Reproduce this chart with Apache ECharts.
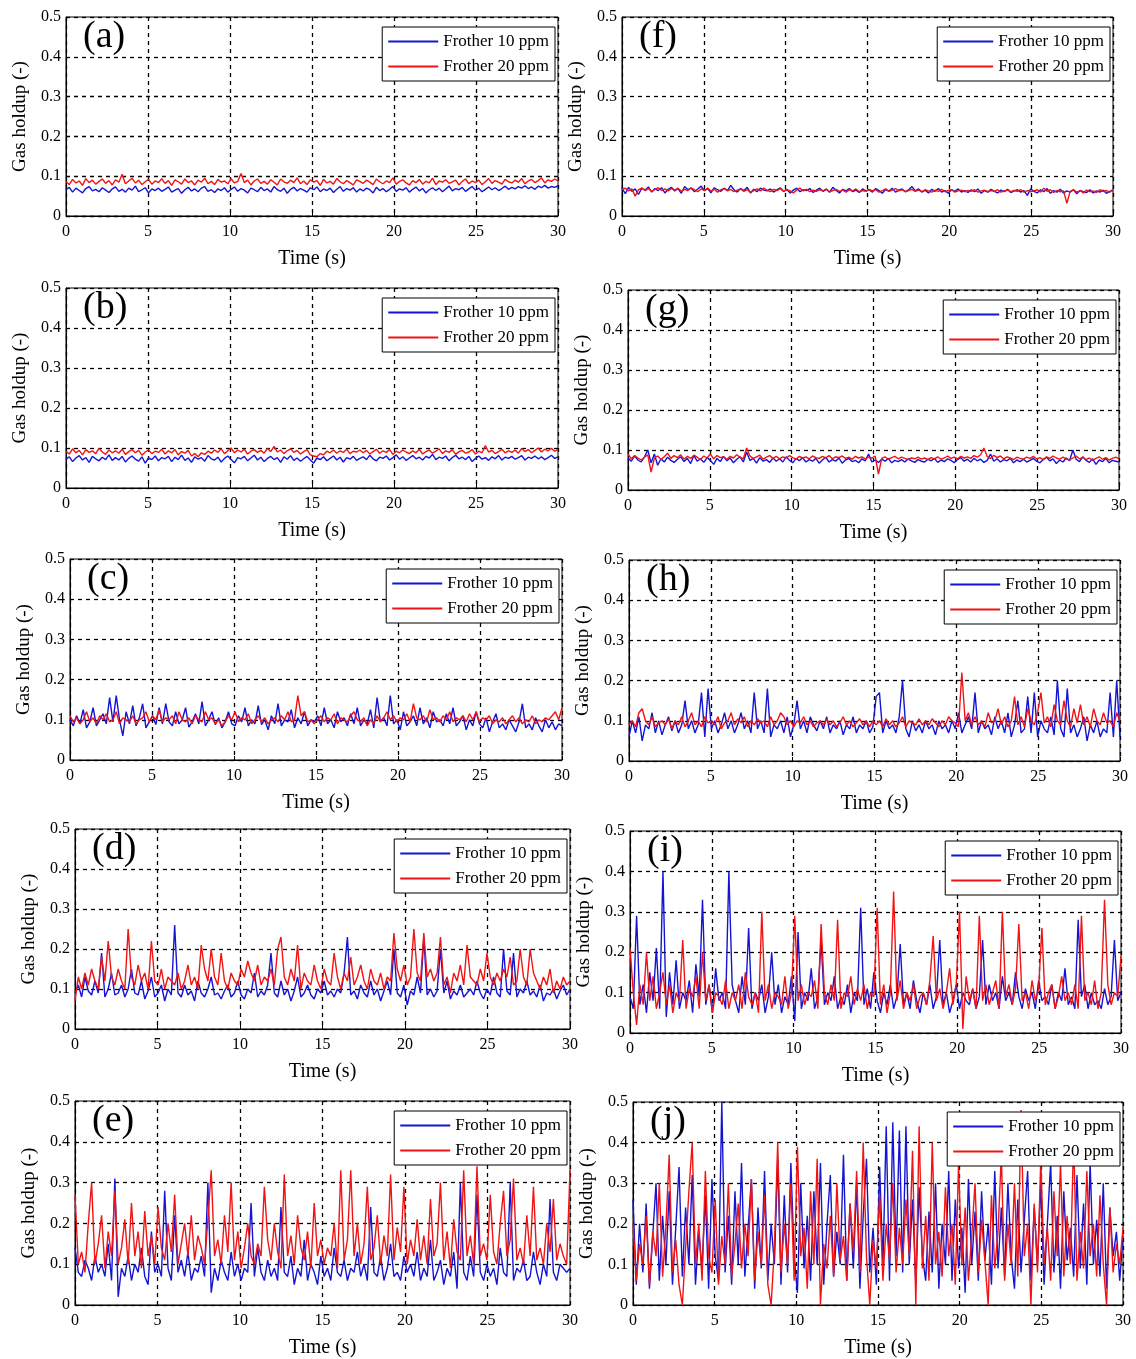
<!DOCTYPE html>
<html>
<head>
<meta charset="utf-8">
<title>Gas holdup vs time</title>
<script src="https://cdn.jsdelivr.net/npm/echarts@6/dist/echarts.min.js"></script>
<style>
  html, body { margin: 0; padding: 0; background: #fff; }
  #chart { width: 1136px; height: 1359px; }
</style>
</head>
<body>
<div id="chart"></div>
<script>
// series names / tick labels
const seriesNames = ['Frother 10 ppm', 'Frother 20 ppm'];
const panelLabels = ['(a)', '(b)', '(c)', '(d)', '(e)', '(f)', '(g)', '(h)', '(i)', '(j)'];
const xTicks = [0, 5, 10, 15, 20, 25, 30];
const yTicks = [0, 0.1, 0.2, 0.3, 0.4, 0.5];

// gas holdup, 150 samples over 0-30 s
const a10 = [
  0.066,0.072,0.06,0.07,0.064,0.058,0.069,0.074,0.063,0.067,0.061,0.071,0.065,0.059,0.068,
  0.073,0.062,0.067,0.06,0.07,0.065,0.075,0.061,0.066,0.071,0.058,0.068,0.064,0.07,0.062,
  0.067,0.073,0.06,0.065,0.069,0.057,0.066,0.072,0.063,0.068,0.061,0.07,0.074,0.062,0.066,
  0.059,0.068,0.064,0.071,0.06,0.067,0.073,0.062,0.069,0.065,0.058,0.07,0.066,0.061,0.072,
  0.064,0.068,0.06,0.074,0.066,0.062,0.07,0.057,0.067,0.072,0.063,0.069,0.065,0.06,0.071,
  0.066,0.073,0.061,0.068,0.064,0.07,0.059,0.067,0.074,0.062,0.069,0.065,0.071,0.06,0.068,
  0.063,0.07,0.066,0.058,0.072,0.064,0.069,0.061,0.067,0.074,0.062,0.068,0.065,0.071,0.06,
  0.067,0.073,0.063,0.069,0.058,0.066,0.071,0.064,0.07,0.061,0.068,0.075,0.063,0.069,0.066,
  0.072,0.062,0.068,0.074,0.065,0.07,0.061,0.067,0.073,0.066,0.071,0.064,0.069,0.075,0.067,
  0.072,0.068,0.074,0.07,0.076,0.069,0.073,0.067,0.075,0.071,0.077,0.07,0.074,0.072,0.076
];
const a20 = [
  0.086,0.079,0.092,0.083,0.088,0.077,0.094,0.084,0.09,0.08,0.087,0.093,0.082,0.089,0.078,
  0.091,0.085,0.105,0.081,0.088,0.095,0.083,0.09,0.079,0.086,0.092,0.08,0.088,0.084,0.094,
  0.082,0.089,0.077,0.091,0.086,0.08,0.093,0.084,0.088,0.078,0.09,0.085,0.095,0.081,0.087,
  0.079,0.092,0.085,0.088,0.081,0.094,0.083,0.087,0.107,0.084,0.09,0.078,0.088,0.093,0.082,
  0.087,0.08,0.091,0.085,0.078,0.093,0.086,0.082,0.09,0.084,0.096,0.081,0.088,0.079,0.091,
  0.085,0.089,0.077,0.092,0.083,0.087,0.08,0.094,0.086,0.081,0.089,0.084,0.078,0.091,0.087,
  0.082,0.09,0.085,0.079,0.093,0.086,0.081,0.088,0.084,0.096,0.08,0.087,0.091,0.083,0.078,
  0.089,0.084,0.092,0.08,0.087,0.083,0.095,0.079,0.088,0.085,0.091,0.082,0.086,0.09,0.078,
  0.087,0.093,0.081,0.088,0.084,0.09,0.079,0.086,0.094,0.082,0.089,0.085,0.08,0.092,0.086,
  0.083,0.09,0.085,0.094,0.081,0.088,0.092,0.084,0.089,0.096,0.083,0.091,0.087,0.093,0.088
];
const b10 = [
  0.072,0.078,0.066,0.075,0.081,0.07,0.076,0.064,0.079,0.073,0.068,0.077,0.071,0.083,0.069,
  0.076,0.07,0.079,0.065,0.074,0.08,0.072,0.067,0.078,0.062,0.075,0.071,0.08,0.068,0.076,
  0.073,0.079,0.066,0.077,0.071,0.082,0.069,0.075,0.064,0.078,0.072,0.076,0.067,0.081,0.073,
  0.07,0.077,0.065,0.074,0.08,0.071,0.063,0.076,0.073,0.079,0.068,0.075,0.082,0.07,0.077,
  0.066,0.074,0.079,0.071,0.076,0.064,0.078,0.072,0.081,0.069,0.075,0.067,0.073,0.079,0.07,
  0.062,0.075,0.071,0.078,0.068,0.074,0.08,0.07,0.077,0.065,0.076,0.072,0.079,0.069,0.074,
  0.078,0.071,0.082,0.073,0.068,0.077,0.074,0.08,0.07,0.076,0.083,0.072,0.078,0.069,0.075,
  0.081,0.073,0.077,0.07,0.079,0.075,0.084,0.071,0.077,0.074,0.08,0.068,0.076,0.082,0.073,
  0.077,0.071,0.079,0.066,0.074,0.08,0.072,0.076,0.069,0.078,0.073,0.081,0.07,0.077,0.074,
  0.079,0.072,0.076,0.081,0.07,0.077,0.074,0.08,0.073,0.078,0.071,0.076,0.082,0.074,0.078
];
const b20 = [
  0.092,0.085,0.098,0.088,0.094,0.083,0.096,0.089,0.093,0.086,0.099,0.09,0.084,0.095,0.088,
  0.093,0.087,0.097,0.084,0.091,0.096,0.088,0.094,0.082,0.09,0.095,0.086,0.092,0.089,0.097,
  0.085,0.093,0.088,0.096,0.083,0.091,0.087,0.094,0.08,0.086,0.078,0.088,0.084,0.092,0.087,
  0.095,0.089,0.098,0.086,0.093,0.1,0.088,0.095,0.09,0.097,0.085,0.092,0.096,0.089,0.094,
  0.087,0.099,0.091,0.104,0.09,0.095,0.086,0.093,0.098,0.089,0.094,0.085,0.091,0.096,0.083,
  0.08,0.078,0.086,0.083,0.092,0.088,0.095,0.087,0.093,0.089,0.097,0.086,0.092,0.09,0.095,
  0.088,0.094,0.085,0.091,0.097,0.087,0.093,0.089,0.096,0.084,0.092,0.088,0.095,0.09,0.086,
  0.093,0.088,0.097,0.085,0.091,0.095,0.087,0.092,0.098,0.086,0.093,0.089,0.096,0.084,0.091,
  0.094,0.087,0.09,0.096,0.085,0.092,0.088,0.106,0.09,0.094,0.086,0.091,0.097,0.088,0.093,
  0.089,0.095,0.087,0.099,0.091,0.096,0.088,0.094,0.1,0.09,0.097,0.093,0.099,0.092,0.096
];
const c10 = [
  0.1,0.085,0.11,0.09,0.125,0.08,0.095,0.13,0.085,0.1,0.115,0.09,0.155,0.095,0.16,
  0.1,0.06,0.12,0.09,0.135,0.085,0.105,0.14,0.08,0.095,0.11,0.088,0.13,0.09,0.14,
  0.095,0.085,0.12,0.09,0.1,0.13,0.082,0.095,0.115,0.09,0.145,0.085,0.1,0.12,0.088,
  0.105,0.08,0.095,0.12,0.09,0.085,0.11,0.095,0.13,0.085,0.1,0.09,0.135,0.088,0.1,
  0.075,0.11,0.09,0.14,0.085,0.1,0.095,0.125,0.08,0.105,0.09,0.12,0.085,0.1,0.095,
  0.11,0.085,0.13,0.09,0.1,0.08,0.12,0.095,0.105,0.085,0.115,0.09,0.13,0.085,0.1,
  0.09,0.125,0.08,0.155,0.095,0.105,0.085,0.16,0.09,0.1,0.075,0.12,0.085,0.095,0.11,
  0.085,0.13,0.09,0.105,0.08,0.12,0.095,0.1,0.085,0.115,0.09,0.13,0.085,0.095,0.11,
  0.075,0.1,0.085,0.12,0.09,0.08,0.105,0.07,0.095,0.115,0.08,0.09,0.075,0.1,0.085,
  0.07,0.095,0.14,0.08,0.09,0.075,0.105,0.085,0.07,0.1,0.08,0.095,0.075,0.09,0.085
];
const c20 = [
  0.11,0.095,0.105,0.09,0.1,0.12,0.095,0.105,0.09,0.11,0.1,0.115,0.095,0.1,0.12,
  0.09,0.105,0.1,0.095,0.11,0.09,0.1,0.105,0.12,0.095,0.11,0.1,0.125,0.095,0.105,
  0.1,0.11,0.09,0.12,0.1,0.095,0.105,0.09,0.11,0.1,0.095,0.12,0.1,0.105,0.09,
  0.1,0.085,0.095,0.11,0.1,0.12,0.095,0.105,0.1,0.115,0.09,0.1,0.11,0.095,0.105,
  0.09,0.1,0.105,0.095,0.11,0.1,0.12,0.095,0.1,0.16,0.11,0.12,0.095,0.1,0.09,
  0.1,0.11,0.095,0.105,0.1,0.115,0.09,0.105,0.1,0.095,0.11,0.12,0.1,0.095,0.105,
  0.085,0.1,0.09,0.11,0.095,0.105,0.12,0.1,0.11,0.095,0.105,0.1,0.115,0.095,0.14,
  0.105,0.1,0.11,0.095,0.125,0.1,0.105,0.095,0.11,0.1,0.12,0.095,0.105,0.1,0.11,
  0.095,0.115,0.1,0.12,0.095,0.105,0.1,0.11,0.09,0.1,0.095,0.105,0.09,0.1,0.11,
  0.095,0.105,0.09,0.1,0.095,0.11,0.09,0.1,0.095,0.105,0.1,0.11,0.12,0.1,0.13
];
const d10 = [
  0.09,0.11,0.08,0.13,0.095,0.085,0.12,0.09,0.19,0.08,0.1,0.14,0.085,0.09,0.11,
  0.08,0.1,0.15,0.09,0.085,0.12,0.075,0.095,0.13,0.08,0.09,0.11,0.07,0.1,0.085,
  0.26,0.09,0.08,0.11,0.085,0.095,0.07,0.12,0.09,0.08,0.1,0.13,0.085,0.09,0.075,
  0.095,0.11,0.08,0.09,0.12,0.085,0.075,0.1,0.09,0.14,0.08,0.095,0.085,0.11,0.19,
  0.09,0.08,0.12,0.085,0.1,0.07,0.095,0.13,0.08,0.09,0.11,0.085,0.075,0.1,0.09,
  0.12,0.085,0.095,0.08,0.1,0.09,0.14,0.23,0.085,0.095,0.075,0.11,0.09,0.08,0.12,
  0.085,0.1,0.07,0.095,0.12,0.085,0.2,0.09,0.08,0.11,0.06,0.095,0.085,0.13,0.09,
  0.23,0.085,0.1,0.08,0.095,0.2,0.09,0.12,0.075,0.095,0.085,0.11,0.08,0.09,0.1,
  0.085,0.12,0.09,0.075,0.1,0.085,0.13,0.09,0.08,0.2,0.095,0.085,0.19,0.08,0.1,
  0.09,0.12,0.085,0.095,0.08,0.11,0.07,0.09,0.085,0.1,0.075,0.095,0.11,0.085,0.1
];
const d20 = [
  0.07,0.13,0.1,0.14,0.11,0.15,0.12,0.1,0.18,0.12,0.22,0.13,0.11,0.15,0.12,
  0.1,0.25,0.13,0.11,0.16,0.12,0.14,0.1,0.22,0.12,0.11,0.15,0.1,0.13,0.12,
  0.11,0.14,0.1,0.12,0.16,0.11,0.13,0.1,0.21,0.15,0.12,0.2,0.13,0.11,0.19,
  0.12,0.1,0.14,0.12,0.11,0.15,0.13,0.17,0.14,0.12,0.16,0.11,0.13,0.12,0.15,
  0.11,0.2,0.23,0.13,0.11,0.15,0.12,0.21,0.1,0.14,0.12,0.11,0.16,0.12,0.1,
  0.15,0.12,0.11,0.19,0.13,0.1,0.14,0.12,0.18,0.11,0.13,0.16,0.12,0.1,0.15,
  0.12,0.11,0.14,0.1,0.13,0.12,0.24,0.15,0.12,0.16,0.11,0.13,0.25,0.14,0.12,
  0.24,0.13,0.15,0.12,0.14,0.23,0.11,0.13,0.09,0.14,0.12,0.16,0.11,0.21,0.13,
  0.12,0.11,0.15,0.12,0.19,0.13,0.11,0.14,0.12,0.15,0.13,0.18,0.11,0.12,0.2,
  0.13,0.11,0.2,0.14,0.12,0.1,0.13,0.11,0.15,0.09,0.12,0.1,0.13,0.11,0.12
];
const e10 = [
  0.14,0.08,0.07,0.11,0.09,0.06,0.12,0.08,0.1,0.07,0.15,0.06,0.31,0.02,0.09,
  0.07,0.12,0.06,0.1,0.08,0.14,0.07,0.05,0.18,0.08,0.1,0.07,0.28,0.09,0.06,
  0.22,0.08,0.11,0.07,0.13,0.06,0.09,0.08,0.12,0.07,0.3,0.03,0.09,0.06,0.11,
  0.08,0.06,0.13,0.07,0.1,0.06,0.09,0.08,0.25,0.07,0.14,0.08,0.06,0.11,0.07,
  0.09,0.06,0.24,0.08,0.07,0.12,0.05,0.09,0.07,0.16,0.06,0.1,0.08,0.05,0.12,
  0.07,0.09,0.06,0.14,0.08,0.07,0.11,0.06,0.09,0.08,0.13,0.07,0.1,0.06,0.24,
  0.08,0.07,0.12,0.06,0.09,0.15,0.07,0.08,0.06,0.12,0.08,0.1,0.07,0.13,0.06,
  0.09,0.07,0.16,0.06,0.08,0.11,0.05,0.09,0.07,0.13,0.04,0.3,0.08,0.06,0.12,
  0.07,0.27,0.08,0.06,0.1,0.07,0.09,0.05,0.14,0.08,0.07,0.3,0.06,0.09,0.08,
  0.11,0.06,0.07,0.13,0.08,0.05,0.1,0.07,0.26,0.08,0.06,0.1,0.09,0.08,0.09
];
const e20 = [
  0.27,0.1,0.13,0.08,0.2,0.3,0.1,0.15,0.22,0.09,0.18,0.12,0.28,0.1,0.14,
  0.21,0.1,0.25,0.12,0.18,0.09,0.23,0.12,0.17,0.1,0.24,0.14,0.11,0.2,0.13,
  0.27,0.1,0.15,0.2,0.12,0.22,0.11,0.17,0.14,0.1,0.21,0.33,0.12,0.16,0.1,
  0.22,0.13,0.3,0.11,0.18,0.09,0.14,0.2,0.12,0.1,0.15,0.12,0.29,0.16,0.11,
  0.2,0.13,0.09,0.32,0.12,0.17,0.1,0.22,0.14,0.11,0.18,0.09,0.25,0.12,0.16,
  0.1,0.14,0.12,0.2,0.09,0.33,0.11,0.16,0.33,0.12,0.2,0.1,0.15,0.29,0.11,
  0.14,0.22,0.1,0.17,0.12,0.32,0.11,0.19,0.13,0.29,0.1,0.16,0.12,0.21,0.11,
  0.17,0.1,0.26,0.12,0.15,0.3,0.11,0.18,0.09,0.21,0.13,0.11,0.33,0.12,0.17,
  0.1,0.34,0.12,0.15,0.11,0.27,0.13,0.1,0.2,0.28,0.12,0.16,0.31,0.11,0.14,
  0.1,0.22,0.12,0.29,0.11,0.14,0.1,0.2,0.13,0.26,0.11,0.15,0.12,0.1,0.33
];
const f10 = [
  0.07,0.056,0.072,0.062,0.068,0.054,0.07,0.065,0.073,0.06,0.069,0.064,0.071,0.058,0.067,
  0.072,0.063,0.069,0.057,0.074,0.066,0.07,0.061,0.068,0.075,0.064,0.069,0.058,0.071,0.066,
  0.062,0.07,0.064,0.077,0.066,0.06,0.069,0.064,0.072,0.058,0.067,0.061,0.07,0.065,0.063,
  0.068,0.06,0.066,0.071,0.062,0.067,0.058,0.065,0.07,0.061,0.066,0.064,0.069,0.059,0.065,
  0.07,0.062,0.067,0.06,0.072,0.064,0.058,0.067,0.063,0.069,0.061,0.065,0.059,0.068,0.063,
  0.066,0.06,0.069,0.064,0.057,0.067,0.062,0.07,0.06,0.065,0.068,0.061,0.066,0.074,0.063,
  0.068,0.06,0.065,0.058,0.067,0.062,0.069,0.06,0.064,0.057,0.066,0.062,0.068,0.06,0.064,
  0.059,0.066,0.061,0.068,0.057,0.064,0.06,0.067,0.062,0.058,0.065,0.061,0.067,0.059,0.063,
  0.066,0.06,0.064,0.052,0.068,0.062,0.058,0.066,0.061,0.069,0.057,0.064,0.06,0.067,0.058,
  0.063,0.06,0.066,0.056,0.064,0.061,0.059,0.066,0.058,0.063,0.06,0.065,0.057,0.062,0.064
];
const f20 = [
  0.066,0.07,0.063,0.068,0.05,0.066,0.07,0.064,0.069,0.062,0.067,0.071,0.064,0.068,0.063,
  0.069,0.065,0.07,0.062,0.067,0.064,0.071,0.066,0.061,0.068,0.064,0.07,0.063,0.067,0.06,
  0.066,0.069,0.063,0.067,0.061,0.065,0.068,0.062,0.066,0.06,0.064,0.068,0.063,0.07,0.065,
  0.061,0.067,0.064,0.069,0.062,0.066,0.063,0.058,0.065,0.07,0.063,0.067,0.061,0.065,0.062,
  0.066,0.063,0.068,0.061,0.064,0.067,0.062,0.065,0.06,0.066,0.063,0.068,0.061,0.064,0.062,
  0.067,0.063,0.066,0.06,0.064,0.068,0.062,0.065,0.069,0.063,0.066,0.061,0.064,0.067,0.062,
  0.065,0.061,0.066,0.063,0.06,0.065,0.062,0.067,0.061,0.064,0.066,0.06,0.063,0.065,0.061,
  0.064,0.062,0.066,0.06,0.063,0.065,0.061,0.064,0.062,0.066,0.06,0.063,0.065,0.061,0.064,
  0.062,0.066,0.06,0.064,0.061,0.063,0.066,0.06,0.07,0.062,0.066,0.059,0.064,0.061,0.063,
  0.032,0.062,0.066,0.06,0.064,0.058,0.065,0.061,0.063,0.059,0.066,0.062,0.064,0.06,0.067
];
const g10 = [
  0.08,0.072,0.085,0.075,0.07,0.083,0.1,0.068,0.09,0.062,0.078,0.07,0.082,0.074,0.069,
  0.077,0.083,0.071,0.079,0.066,0.086,0.072,0.078,0.069,0.081,0.074,0.064,0.079,0.071,0.084,
  0.073,0.08,0.068,0.077,0.083,0.07,0.095,0.074,0.079,0.067,0.081,0.072,0.076,0.069,0.08,
  0.072,0.078,0.07,0.083,0.074,0.068,0.079,0.073,0.081,0.07,0.076,0.072,0.079,0.067,0.075,
  0.082,0.07,0.076,0.072,0.08,0.067,0.075,0.079,0.071,0.074,0.068,0.078,0.073,0.09,0.07,
  0.075,0.069,0.077,0.072,0.079,0.068,0.074,0.071,0.076,0.07,0.078,0.073,0.069,0.076,0.072,
  0.07,0.077,0.073,0.079,0.069,0.075,0.071,0.078,0.074,0.068,0.076,0.081,0.072,0.077,0.07,
  0.079,0.073,0.077,0.069,0.074,0.09,0.072,0.078,0.07,0.076,0.073,0.079,0.068,0.075,0.071,
  0.077,0.07,0.074,0.079,0.072,0.068,0.076,0.082,0.073,0.078,0.066,0.075,0.07,0.08,0.073,
  0.1,0.077,0.071,0.083,0.074,0.069,0.078,0.064,0.075,0.071,0.079,0.068,0.074,0.072,0.07
];
const g20 = [
  0.09,0.078,0.086,0.08,0.075,0.082,0.088,0.045,0.08,0.085,0.076,0.083,0.092,0.079,0.086,
  0.081,0.088,0.077,0.084,0.079,0.087,0.082,0.076,0.085,0.08,0.09,0.078,0.086,0.081,0.083,
  0.077,0.084,0.08,0.088,0.082,0.078,0.105,0.085,0.079,0.083,0.087,0.077,0.082,0.086,0.079,
  0.084,0.078,0.083,0.08,0.086,0.081,0.077,0.084,0.08,0.083,0.078,0.085,0.081,0.079,0.084,
  0.08,0.086,0.078,0.083,0.081,0.085,0.079,0.082,0.077,0.084,0.08,0.083,0.078,0.082,0.08,
  0.085,0.04,0.079,0.083,0.077,0.081,0.084,0.078,0.082,0.079,0.076,0.08,0.078,0.082,0.077,
  0.08,0.076,0.081,0.078,0.083,0.077,0.08,0.085,0.079,0.082,0.078,0.084,0.08,0.083,0.079,
  0.086,0.082,0.088,0.105,0.084,0.079,0.087,0.081,0.085,0.078,0.083,0.08,0.076,0.082,0.079,
  0.077,0.082,0.079,0.084,0.078,0.081,0.076,0.083,0.079,0.085,0.08,0.077,0.082,0.078,0.075,
  0.08,0.085,0.078,0.082,0.076,0.08,0.074,0.079,0.083,0.077,0.081,0.075,0.079,0.082,0.078
];
const h10 = [
  0.06,0.1,0.07,0.11,0.05,0.09,0.08,0.12,0.07,0.1,0.065,0.09,0.11,0.075,0.1,
  0.07,0.09,0.15,0.08,0.1,0.07,0.09,0.17,0.06,0.18,0.08,0.1,0.07,0.09,0.12,
  0.08,0.1,0.07,0.09,0.12,0.08,0.1,0.07,0.17,0.08,0.1,0.07,0.18,0.06,0.09,
  0.08,0.1,0.07,0.11,0.06,0.09,0.15,0.08,0.1,0.07,0.11,0.09,0.075,0.1,0.08,
  0.11,0.07,0.09,0.08,0.1,0.065,0.09,0.08,0.11,0.07,0.09,0.08,0.1,0.07,0.085,
  0.16,0.17,0.07,0.1,0.08,0.09,0.07,0.11,0.2,0.08,0.06,0.1,0.075,0.09,0.07,
  0.1,0.08,0.09,0.065,0.1,0.08,0.09,0.07,0.1,0.08,0.12,0.07,0.09,0.11,0.08,
  0.17,0.07,0.1,0.08,0.09,0.065,0.11,0.08,0.1,0.07,0.12,0.06,0.09,0.15,0.07,
  0.08,0.16,0.07,0.17,0.06,0.1,0.08,0.07,0.11,0.065,0.2,0.08,0.06,0.18,0.07,
  0.09,0.06,0.08,0.11,0.05,0.09,0.07,0.1,0.06,0.08,0.07,0.17,0.06,0.2,0.06
];
const h20 = [
  0.09,0.1,0.085,0.12,0.13,0.1,0.09,0.11,0.085,0.095,0.1,0.09,0.105,0.08,0.1,
  0.09,0.11,0.085,0.1,0.12,0.09,0.1,0.085,0.11,0.095,0.1,0.09,0.11,0.08,0.095,
  0.1,0.12,0.09,0.105,0.095,0.11,0.085,0.1,0.09,0.105,0.095,0.1,0.085,0.11,0.09,
  0.1,0.12,0.11,0.09,0.1,0.085,0.1,0.095,0.11,0.09,0.1,0.085,0.095,0.1,0.09,
  0.105,0.09,0.1,0.085,0.095,0.11,0.09,0.1,0.085,0.095,0.105,0.09,0.1,0.085,0.1,
  0.09,0.1,0.085,0.105,0.09,0.1,0.085,0.095,0.11,0.085,0.1,0.095,0.09,0.105,0.09,
  0.1,0.09,0.105,0.095,0.085,0.1,0.09,0.11,0.1,0.095,0.085,0.22,0.1,0.12,0.09,
  0.11,0.09,0.1,0.085,0.12,0.095,0.1,0.13,0.09,0.11,0.085,0.1,0.16,0.09,0.11,
  0.085,0.13,0.1,0.09,0.12,0.17,0.095,0.11,0.085,0.14,0.1,0.09,0.15,0.1,0.085,
  0.13,0.095,0.14,0.09,0.11,0.085,0.13,0.1,0.09,0.12,0.095,0.1,0.085,0.12,0.1
];
const i10 = [
  0.09,0.06,0.29,0.07,0.12,0.05,0.15,0.08,0.21,0.06,0.4,0.04,0.15,0.07,0.18,
  0.06,0.1,0.08,0.13,0.05,0.17,0.09,0.33,0.07,0.12,0.05,0.16,0.08,0.1,0.06,
  0.4,0.12,0.08,0.05,0.14,0.07,0.26,0.06,0.1,0.08,0.12,0.05,0.09,0.2,0.07,
  0.12,0.05,0.09,0.07,0.14,0.03,0.25,0.06,0.1,0.08,0.16,0.06,0.09,0.23,0.07,
  0.1,0.08,0.14,0.06,0.09,0.07,0.12,0.05,0.1,0.08,0.31,0.07,0.11,0.06,0.15,
  0.08,0.05,0.1,0.07,0.12,0.06,0.09,0.22,0.07,0.1,0.06,0.13,0.08,0.05,0.1,
  0.07,0.12,0.06,0.09,0.23,0.07,0.1,0.05,0.08,0.12,0.06,0.1,0.08,0.07,0.11,
  0.06,0.09,0.23,0.07,0.12,0.08,0.1,0.06,0.14,0.08,0.1,0.07,0.15,0.09,0.06,
  0.11,0.08,0.1,0.06,0.13,0.08,0.09,0.07,0.12,0.06,0.1,0.08,0.16,0.07,0.09,
  0.06,0.28,0.09,0.12,0.06,0.1,0.07,0.08,0.06,0.11,0.07,0.09,0.23,0.08,0.1
];
const i20 = [
  0.21,0.1,0.02,0.12,0.07,0.2,0.08,0.14,0.06,0.1,0.15,0.07,0.12,0.05,0.1,
  0.08,0.23,0.06,0.11,0.09,0.14,0.06,0.2,0.08,0.12,0.05,0.1,0.09,0.07,0.13,
  0.06,0.1,0.08,0.12,0.06,0.15,0.09,0.07,0.1,0.05,0.3,0.08,0.12,0.06,0.1,
  0.09,0.07,0.14,0.06,0.1,0.29,0.08,0.12,0.07,0.1,0.09,0.13,0.06,0.27,0.1,
  0.07,0.12,0.08,0.28,0.06,0.1,0.09,0.14,0.07,0.11,0.08,0.12,0.06,0.1,0.09,
  0.31,0.07,0.12,0.05,0.1,0.35,0.08,0.13,0.06,0.1,0.08,0.12,0.06,0.09,0.1,
  0.07,0.13,0.24,0.08,0.11,0.06,0.1,0.16,0.07,0.12,0.3,0.01,0.14,0.08,0.11,
  0.06,0.29,0.08,0.12,0.07,0.1,0.13,0.06,0.3,0.09,0.12,0.07,0.11,0.27,0.08,
  0.1,0.06,0.13,0.08,0.11,0.26,0.07,0.1,0.12,0.06,0.09,0.14,0.08,0.1,0.07,
  0.12,0.06,0.29,0.08,0.1,0.07,0.13,0.06,0.1,0.33,0.12,0.07,0.1,0.09,0.19
];
const j10 = [
  0.26,0.05,0.2,0.08,0.25,0.04,0.17,0.3,0.06,0.22,0.1,0.28,0.05,0.19,0.34,
  0.07,0.24,0.1,0.32,0.05,0.18,0.09,0.27,0.04,0.31,0.12,0.06,0.5,0.08,0.22,
  0.05,0.28,0.1,0.35,0.07,0.19,0.31,0.04,0.24,0.09,0.33,0.06,0.2,0.1,0.36,
  0.05,0.27,0.08,0.35,0.12,0.03,0.3,0.09,0.22,0.06,0.28,0.1,0.35,0.05,0.2,
  0.32,0.07,0.18,0.1,0.37,0.06,0.25,0.09,0.3,0.04,0.22,0.36,0.08,0.19,0.05,
  0.34,0.1,0.44,0.06,0.45,0.12,0.43,0.08,0.44,0.1,0.26,0.05,0.29,0.12,0.06,
  0.23,0.08,0.3,0.04,0.2,0.1,0.33,0.06,0.26,0.09,0.19,0.03,0.31,0.1,0.23,
  0.06,0.28,0.11,0.2,0.05,0.33,0.09,0.24,0.07,0.3,0.12,0.04,0.26,0.08,0.21,
  0.33,0.06,0.24,0.1,0.3,0.05,0.2,0.35,0.08,0.22,0.04,0.28,0.11,0.19,0.07,
  0.32,0.09,0.25,0.05,0.35,0.1,0.21,0.07,0.3,0.04,0.24,0.12,0.18,0.06,0.17
];
const j20 = [
  0.2,0.06,0.15,0.1,0.22,0.05,0.18,0.12,0.3,0.07,0.19,0.37,0.08,0.16,0.05,
  0.0,0.14,0.28,0.4,0.1,0.2,0.06,0.33,0.12,0.08,0.26,0.05,0.17,0.1,0.3,
  0.07,0.15,0.25,0.09,0.2,0.12,0.31,0.06,0.18,0.1,0.27,0.05,0.0,0.14,0.4,
  0.08,0.2,0.1,0.3,0.06,0.39,0.12,0.19,0.04,0.28,0.1,0.36,0.0,0.15,0.09,
  0.22,0.07,0.3,0.11,0.17,0.06,0.25,0.13,0.33,0.08,0.4,0.12,0.0,0.16,0.09,
  0.27,0.06,0.2,0.11,0.3,0.08,0.19,0.1,0.26,0.12,0.38,0.0,0.44,0.09,0.22,
  0.06,0.4,0.1,0.18,0.07,0.29,0.12,0.2,0.05,0.35,0.1,0.24,0.06,0.17,0.3,
  0.08,0.21,0.11,0.0,0.27,0.09,0.18,0.37,0.06,0.2,0.1,0.3,0.07,0.48,0.12,
  0.2,0.0,0.25,0.08,0.36,0.1,0.19,0.06,0.28,0.12,0.35,0.07,0.22,0.1,0.41,
  0.06,0.18,0.09,0.33,0.12,0.2,0.07,0.27,0.1,0.0,0.24,0.08,0.15,0.1,0.19
];

const panelData = [
  [a10, a20], [b10, b20], [c10, c20], [d10, d20], [e10, e20],
  [f10, f20], [g10, g20], [h10, h20], [i10, i20], [j10, j20]
];

// plot boxes in page pixels (the source figure is a scan, boxes are a bit uneven)
const boxes = [
  {left: 66, top: 17, width: 492, height: 199},
  {left: 66, top: 288, width: 492, height: 200},
  {left: 70, top: 559, width: 492, height: 201},
  {left: 75, top: 829, width: 495, height: 200},
  {left: 75, top: 1101, width: 495, height: 204},
  {left: 622, top: 17, width: 491, height: 199},
  {left: 628, top: 290, width: 491, height: 200},
  {left: 629, top: 560, width: 491, height: 201},
  {left: 630, top: 831, width: 491, height: 202},
  {left: 633, top: 1102, width: 490, height: 203}
];

const FONT = '"Liberation Serif", "Times New Roman", serif';
const colors = ['#1414d2', '#f01414'];

function timeAxis(n) {
  const t = [];
  for (let k = 0; k < n; k++) t.push(k * 30 / (n - 1));
  return t;
}

const chartDom = document.getElementById('chart');
const myChart = echarts.init(chartDom, null, {renderer: 'canvas'});

const grid = [], xAxis = [], yAxis = [], series = [], legend = [], graphic = [];

boxes.forEach((b, i) => {
  grid.push({
    left: b.left, top: b.top, width: b.width, height: b.height,
    show: true, borderColor: '#000', borderWidth: 1, backgroundColor: '#fff'
  });
  xAxis.push({
    type: 'value', gridIndex: i, min: xTicks[0], max: xTicks[xTicks.length - 1], interval: 5,
    name: 'Time (s)', nameLocation: 'middle', nameGap: 33,
    nameTextStyle: {fontFamily: FONT, fontSize: 20, color: '#000'},
    axisLine: {show: true, lineStyle: {color: '#000', width: 1}},
    axisTick: {show: true, inside: true, length: 4, lineStyle: {color: '#000'}},
    axisLabel: {fontFamily: FONT, fontSize: 16, color: '#000', margin: 8},
    splitLine: {show: true, lineStyle: {color: '#000', type: [4, 4], width: 1.3}}
  });
  yAxis.push({
    type: 'value', gridIndex: i, min: yTicks[0], max: yTicks[yTicks.length - 1], interval: 0.1,
    name: 'Gas holdup (-)', nameLocation: 'middle', nameGap: 36, nameRotate: 90,
    nameTextStyle: {fontFamily: FONT, fontSize: 19, color: '#000'},
    axisLine: {show: true, lineStyle: {color: '#000', width: 1}},
    axisTick: {show: true, inside: true, length: 4, lineStyle: {color: '#000'}},
    axisLabel: {
      fontFamily: FONT, fontSize: 16, color: '#000', margin: 5,
      formatter: v => (v === 0 ? '0' : v.toFixed(1))
    },
    splitLine: {show: true, lineStyle: {color: '#000', type: [4, 4], width: 1.3}}
  });
  const t = timeAxis(panelData[i][0].length);
  panelData[i].forEach((vals, s) => {
    series.push({
      name: seriesNames[s], type: 'line', xAxisIndex: i, yAxisIndex: i,
      data: vals.map((v, k) => [t[k], v]),
      symbol: 'none', showSymbol: false,
      lineStyle: {color: colors[s], width: 1.4},
      itemStyle: {color: colors[s]},
      z: 2 + s
    });
  });
  legend.push({
    data: seriesNames, orient: 'vertical',
    right: 1136 - (b.left + b.width) + 3, top: b.top + 10,
    icon: 'rect', itemWidth: 50, itemHeight: 2, itemGap: 8,
    padding: [6, 6, 6, 6],
    borderColor: '#000', borderWidth: 1, backgroundColor: '#fff',
    textStyle: {fontFamily: FONT, fontSize: 17, color: '#000'},
    selectedMode: false
  });
  graphic.push({
    type: 'text', left: b.left + 17, top: b.top + 1, z: 10,
    style: {text: panelLabels[i], font: '38px ' + FONT, fill: '#000'}
  });
});

const option = {
  backgroundColor: '#fff',
  animation: false,
  grid, xAxis, yAxis, series, legend, graphic
};
option && myChart.setOption(option);
</script>
</body>
</html>
